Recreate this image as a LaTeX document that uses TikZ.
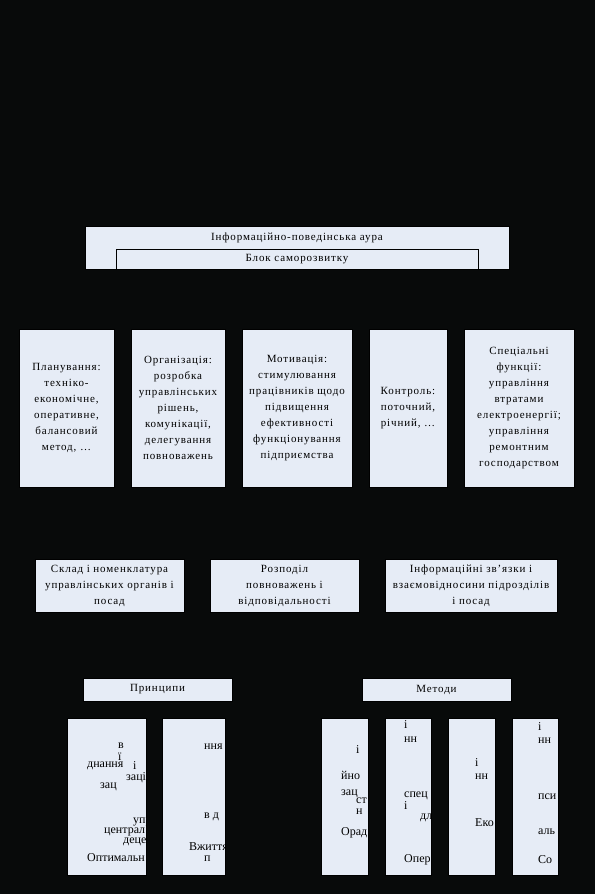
\documentclass[tikz,border=0pt]{standalone}
\usepackage{fontspec}
\setmainfont{Liberation Serif}[LetterSpace=8]
\usetikzlibrary{positioning}
\definecolor{bgdark}{RGB}{8,10,10}
\definecolor{boxfill}{RGB}{230,236,246}
\tikzset{
  fbox/.style  = {draw=black, fill=boxfill, rectangle,
                  align=center, inner sep=2pt,
                  font=\fontsize{11}{16}\selectfont},
  blank/.style = {draw=black, fill=boxfill, rectangle, inner sep=0pt},
  ttl/.style   = {inner sep=0pt, align=center,
                  font=\fontsize{11}{16}\selectfont},
  frag/.style  = {anchor=west, inner sep=0pt,
                  font=\fontsize{12}{14}\selectfont\addfontfeature{LetterSpace=0}},
}

\begin{document}
\begin{tikzpicture}[x=1pt, y=-1pt]

% ────────────────────────────────────────────────────────────
%  Canvas: 595 x 894, dark background
% ────────────────────────────────────────────────────────────
\fill[bgdark] (0,0) rectangle (595,894);
\useasboundingbox (0,0) rectangle (595,894);

% ═══════════════════════════════════════════════════════════
%  AURA  –  y = 226 .. 269
% ═══════════════════════════════════════════════════════════
\node[blank, minimum width=424pt, minimum height=43pt] (aura) at (297,247.5) {};
\node[ttl] (auratxt) at (297,237.5) {Інформаційно-поведінська аура};
\node[fbox, minimum width=362pt, minimum height=20pt] (self) at (297,259)
  {Блок саморозвитку};

% ═══════════════════════════════════════════════════════════
%  FUNCTIONS  –  y = 329 .. 487
% ═══════════════════════════════════════════════════════════
\node[fbox, minimum width=95pt, minimum height=158pt] (plan) at (66.5,408)
  {Планування:\\ техніко-\\ економічне,\\ оперативне,\\ балансовий\\ метод, …};

\node[fbox, minimum width=94pt, minimum height=158pt] (org) at (178,408)
  {Організація:\\ розробка\\ управлінських\\ рішень,\\ комунікації,\\ делегування\\ повноважень};

\node[fbox, minimum width=110pt, minimum height=158pt] (motiv) at (297,408)
  {Мотивація:\\ стимулювання\\ працівників щодо\\ підвищення\\ ефективності\\ функціонування\\ підприємства};

\node[fbox, minimum width=78pt, minimum height=158pt] (ctrl) at (408,408)
  {Контроль:\\ поточний,\\ річний, …};

\node[fbox, minimum width=110pt, minimum height=158pt] (spec) at (519,408)
  {Спеціальні\\ функції:\\ управління\\ втратами\\ електроенергії;\\ управління\\ ремонтним\\ господарством};

% ═══════════════════════════════════════════════════════════
%  STRUCTURE  –  y = 559 .. 612
% ═══════════════════════════════════════════════════════════
\node[fbox, minimum width=149pt, minimum height=53pt] (sklad) at (109.5,585.5)
  {Склад і номенклатура\\ управлінських органів і\\ посад};

\node[fbox, minimum width=149pt, minimum height=53pt] (rozpod) at (284.5,585.5)
  {Розподіл\\ повноважень і\\ відповідальності};

\node[fbox, minimum width=172pt, minimum height=53pt] (zviazky) at (471,585.5)
  {Інформаційні зв’язки і\\ взаємовідносини підрозділів\\ і посад};

% ═══════════════════════════════════════════════════════════
%  PRINCIPLES / METHODS  –  headers y = 678 .. 701
% ═══════════════════════════════════════════════════════════
\node[fbox, minimum width=149pt, minimum height=23pt] (princ) at (157.5,689.5) {Принципи};
\node[fbox, minimum width=149pt, minimum height=23pt] (meth)  at (436.5,689.5) {Методи};

% boxes y = 718 .. 875
\node[blank, minimum width=79pt, minimum height=157pt] (p1) at (106.5,796.5) {};
\node[blank, minimum width=63pt, minimum height=157pt] (p2) at (193.5,796.5) {};
\node[blank, minimum width=47pt, minimum height=157pt] (m1) at (344.5,796.5) {};
\node[blank, minimum width=46pt, minimum height=157pt] (m2) at (408,796.5) {};
\node[blank, minimum width=47pt, minimum height=157pt] (m3) at (471.5,796.5) {};
\node[blank, minimum width=46pt, minimum height=157pt] (m4) at (535,796.5) {};

% ── broken text fragments, clipped to their boxes ───────────
\begin{scope}
  \clip (p1.south west) rectangle (p1.north east);
  \node[frag] (p1a) at (118,746) {в};
  \node[frag] (p1b) at (118,757) {ї};
  \node[frag] (p1c) at (87,766)  {днання};
  \node[frag] (p1d) at (133,766) {і};
  \node[frag] (p1e) at (126,778) {заціна};
  \node[frag] (p1f) at (100,787) {зац};
  \node[frag] (p1g) at (133,822) {упр};
  \node[frag] (p1h) at (104,832) {централ};
  \node[frag] (p1i) at (123,842) {децен};
  \node[frag] (p1j) at (87,858)  {Оптимальн};
\end{scope}

\begin{scope}
  \clip (p2.south west) rectangle (p2.north east);
  \node[frag] (p2a) at (204,747) {ння};
  \node[frag] (p2b) at (204,817) {в д};
  \node[frag] (p2c) at (189,847) {Вжиття};
  \node[frag] (p2d) at (204,859) {п};
\end{scope}

\begin{scope}
  \clip (m1.south west) rectangle (m1.north east);
  \node[frag] (m1a) at (356,750) {і};
  \node[frag] (m1b) at (341,775) {йно};
  \node[frag] (m1c) at (341,794) {зац};
  \node[frag] (m1d) at (356,801) {ст};
  \node[frag] (m1e) at (356,812) {н};
  \node[frag] (m1f) at (341,833) {Орад};
\end{scope}

\begin{scope}
  \clip (m2.south west) rectangle (m2.north east);
  \node[frag] (m2a) at (404,725) {і};
  \node[frag] (m2b) at (404,740) {нн};
  \node[frag] (m2c) at (404,796) {спец};
  \node[frag] (m2d) at (404,806) {і};
  \node[frag] (m2e) at (420,818) {дл};
  \node[frag] (m2f) at (404,860) {Опер};
\end{scope}

\begin{scope}
  \clip (m3.south west) rectangle (m3.north east);
  \node[frag] (m3a) at (475,763) {і};
  \node[frag] (m3b) at (475,777) {нн};
  \node[frag] (m3c) at (475,823) {Еко};
\end{scope}

\begin{scope}
  \clip (m4.south west) rectangle (m4.north east);
  \node[frag] (m4a) at (538,727) {і};
  \node[frag] (m4b) at (538,741) {нн};
  \node[frag] (m4c) at (538,797) {пси};
  \node[frag] (m4d) at (538,832) {аль};
  \node[frag] (m4e) at (538,860) {Со};
\end{scope}

\end{tikzpicture}
\end{document}
